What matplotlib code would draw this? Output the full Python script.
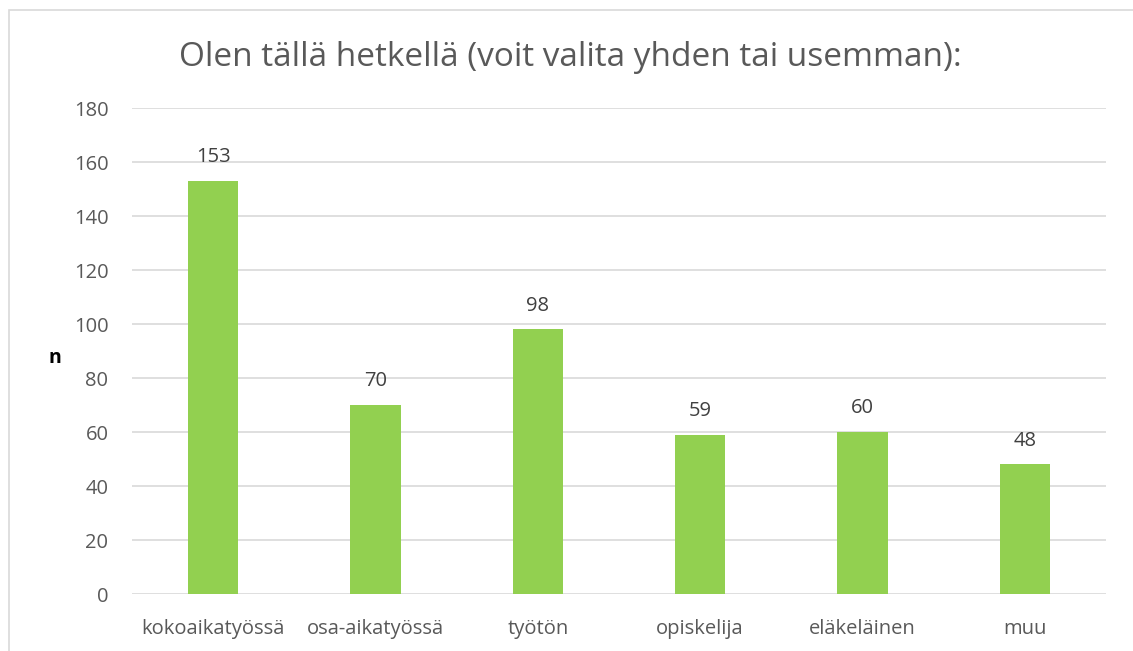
import matplotlib
matplotlib.use("Agg")
import matplotlib.pyplot as plt
from matplotlib.patches import Rectangle

categories = ["kokoaikatyössä", "osa-aikatyössä", "työtön", "opiskelija", "eläkeläinen", "muu"]
values = [153, 70, 98, 59, 60, 48]
yticks = [0, 20, 40, 60, 80, 100, 120, 140, 160, 180]

plt.rcParams['font.family'] = ['Open Sans', 'DejaVu Sans']

W, H = 1133, 651
fig = plt.figure(figsize=(W / 100, H / 100), dpi=100)

# outer chart border (only top and left visible in the crop)
fig.patches.append(Rectangle((9 / W, -0.1), 1.2, 1 - 10 / H + 0.1, transform=fig.transFigure,
                             fill=False, edgecolor="#D9D9D9", linewidth=1.2))

ax = fig.add_axes([132 / W, 1 - 594 / H, (1106 - 132) / W, (594 - 108) / H])
x = range(len(categories))
ax.bar(x, values, width=0.31, color="#92D050", zorder=3)
ax.set_xlim(-0.5, len(categories) - 0.5)
ax.set_ylim(0, 180)
ax.set_yticks(yticks)
ax.set_xticks(list(x))
ax.set_xticklabels(categories)
ax.grid(axis="y", color="#D9D9D9", linewidth=1.2, zorder=0)
for s in ax.spines.values():
    s.set_visible(False)
ax.tick_params(length=0, labelsize=14.5, colors="#595959")
ax.tick_params(axis="y", pad=17)
ax.tick_params(axis="x", pad=18)

for i, v in enumerate(values):
    ax.annotate(str(v), (i, v), xytext=(0, 10), textcoords="offset points",
                ha="center", va="bottom", fontsize=14.5, color="#404040")

fig.text(570 / W, 1 - 58 / H, "Olen tällä hetkellä (voit valita yhden tai usemman):",
         ha="center", va="center", fontsize=24, color="#595959")
fig.text(55 / W, 1 - 358 / H, "n", ha="center", va="center", fontsize=14,
         fontweight="bold", color="black")

fig.savefig("out.png", dpi=100)
